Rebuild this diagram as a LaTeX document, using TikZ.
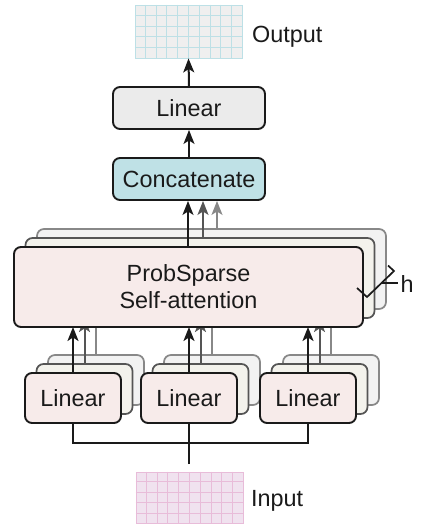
\documentclass[tikz,border=0pt]{standalone}
\usepackage{fontspec}
\setmainfont{Liberation Sans}
\usetikzlibrary{arrows.meta,calc}
\definecolor{ink}{HTML}{1A1A1A}
\definecolor{graytwo}{HTML}{555555}
\definecolor{graythree}{HTML}{888888}
\definecolor{lintopfill}{HTML}{EBEBEB}
\definecolor{concatfill}{HTML}{BFE1E6}
\definecolor{pinkfill}{HTML}{F7EBEA}
\definecolor{beigefill}{HTML}{F3F2EC}
\definecolor{greyfill}{HTML}{F2F2F2}
\definecolor{outfill}{HTML}{EFEFEF}
\definecolor{outline}{HTML}{BDE0E6}
\definecolor{infill}{HTML}{F0E2EF}
\definecolor{inline}{HTML}{E8BCD9}
\begin{document}
\begin{tikzpicture}[x=1pt,y=-1pt,
  txt/.style={font=\fontsize{23.4}{27}\selectfont, text=ink},
  frontbox/.style={txt, draw=ink, line width=1.9pt, rounded corners=7pt, inner sep=0pt, fill=pinkfill},
  midbox/.style={draw=graytwo, line width=1.7pt, rounded corners=7pt, inner sep=0pt, fill=beigefill},
  backbox/.style={draw=graythree, line width=1.7pt, rounded corners=7pt, inner sep=0pt, fill=greyfill},
  linsize/.style={minimum width=96pt, minimum height=50pt},
  attsize/.style={minimum width=349pt, minimum height=80pt},
  topsize/.style={minimum width=152pt, minimum height=42pt},
  tip/.style={-{Stealth[length=14pt,width=11pt,inset=3.5pt]}},
  arrB/.style={tip, draw=ink, line width=2pt},
  arrG/.style={tip, draw=graytwo, line width=2pt},
  arrL/.style={tip, draw=graythree, line width=2pt},
  plain/.style={draw=ink, line width=1.9pt},
  gridbox/.style={inner sep=0pt, line width=0.9pt},
]
\useasboundingbox (0,0) rectangle (422,528);

% bottom linear stacks
\foreach \n/\x in {1/73, 2/189, 3/308} {
  \node[backbox, linsize] (lin\n c) at (\x+23,380) {};
  \node[midbox, linsize] (lin\n b) at (\x+11.5,389) {};
  \node[frontbox, linsize] (lin\n a) at (\x,398) {Linear};
}

% attention stack positions (nodes drawn after the arrows)
\path (211.5,269) coordinate (att3c) (200,278) coordinate (att2c) (188.5,287) coordinate (att1c);

% arrows from linear stacks up to the attention stack
\foreach \n in {1,2,3} {
  \draw[arrL] (lin\n c.north) -- (lin\n c.north |- 0,308);
  \draw[arrG] (lin\n b.north) -- (lin\n b.north |- 0,318);
  \draw[arrB] (lin\n a.north) -- (lin\n a.north |- 0,327);
}

\node[backbox, attsize] (att3) at (att3c) {};
\node[midbox, attsize] (att2) at (att2c) {};
\node[frontbox, attsize, align=center] (att1) at (att1c) {ProbSparse\\Self-attention};

% concatenate and linear
\node[txt, draw=ink, line width=1.9pt, rounded corners=7pt, inner sep=0pt, fill=concatfill, topsize] (concat) at (189,179) {Concatenate};
\node[txt, draw=ink, line width=1.9pt, rounded corners=7pt, inner sep=0pt, fill=lintopfill, topsize] (lintop) at (189,108) {Linear};

% arrows into concatenate
\coordinate (s3) at (217,0);
\coordinate (s2) at (203,0);
\draw[arrL] (s3 |- att3.north) -- (s3 |- concat.south);
\draw[arrG] (s2 |- att2.north) -- (s2 |- concat.south);
\draw[arrB] (att1.north -| 188,0) -- (concat.south -| 188,0);

% output grid
\node[gridbox, draw=outline, fill=outfill, minimum width=107pt, minimum height=53pt] (outgrid) at (188.5,31.5) {};
\foreach \i in {1,...,9}
  \draw[outline, line width=0.9pt] ($(outgrid.north west)!\i/10!(outgrid.north east)$) -- ($(outgrid.south west)!\i/10!(outgrid.south east)$);
\foreach \j in {1,...,4}
  \draw[outline, line width=0.9pt] ($(outgrid.north west)!\j/5!(outgrid.south west)$) -- ($(outgrid.north east)!\j/5!(outgrid.south east)$);
\node[txt, anchor=base west, inner sep=0pt] (outlabel) at (252,42) {Output};

\draw[arrB] (concat.north) -- (lintop.south);
\draw[arrB] (lintop.north) -- (outgrid.south);

% input grid
\node[gridbox, draw=inline, fill=infill, minimum width=107pt, minimum height=51pt] (ingrid) at (189.5,497.5) {};
\foreach \i in {1,...,9}
  \draw[inline, line width=0.9pt] ($(ingrid.north west)!\i/10!(ingrid.north east)$) -- ($(ingrid.south west)!\i/10!(ingrid.south east)$);
\foreach \j in {1,...,4}
  \draw[inline, line width=0.9pt] ($(ingrid.north west)!\j/5!(ingrid.south west)$) -- ($(ingrid.north east)!\j/5!(ingrid.south east)$);
\node[txt, anchor=base west, inner sep=0pt] (inlabel) at (251,506) {Input};

% input distribution lines
\coordinate (junc) at (189,443);
\coordinate (intop) at (189,464);
\draw[plain] (lin1a.south) |- (junc) -| (lin3a.south);
\draw[plain] (intop) -- (lin2a.south);

% head bracket
\draw[plain, line width=1.7pt, line join=miter] (357,288) -- (367,297) -- (394,271) -- (388,265.5);
\draw[plain, line width=1.7pt] (381,283) -- (398,283);
\node[txt, anchor=base west, inner sep=0pt] (hlabel) at (400.5,292) {h};
\end{tikzpicture}
\end{document}
